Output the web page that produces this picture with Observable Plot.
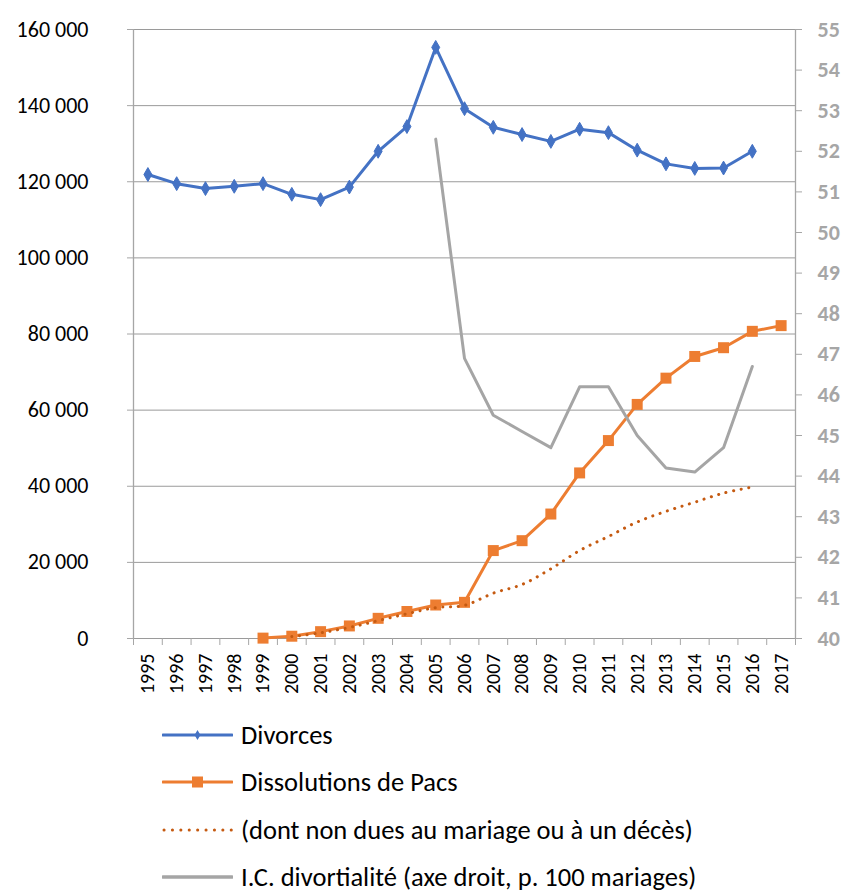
<!DOCTYPE html>
<html>
<head>
<meta charset="utf-8">
<script src="https://cdn.jsdelivr.net/npm/d3@7"></script>
<script src="https://cdn.jsdelivr.net/npm/@observablehq/plot@0.6"></script>
<style>
  body { margin: 0; background: #fff; font-family: Carlito, Calibri, Lato, sans-serif; }
  #chart svg { display: block; }
  .legend { margin-top: 1px; }
  .row { display: flex; align-items: center; height: 47.5px; padding-left: 162px; font-size: 26.5px; line-height: 1; color: #000; }
  .row svg { margin-right: 8px; flex: none; }
</style>
</head>
<body>
<div id="chart"></div>
<div class="legend" id="legend"></div>
<script>
// ---- data ----
const years = d3.range(1995, 2018);
const divorceYears = d3.range(1995, 2017);
const divorces = [121900, 119500, 118200, 118800, 119500, 116700, 115300, 118600, 128000, 134500, 155300, 139200, 134300, 132400, 130600, 133800, 132900, 128300, 124700, 123500, 123600, 128000];
const pacsYears = d3.range(1999, 2018);
const pacs = [100, 600, 1800, 3300, 5300, 7100, 8800, 9500, 23100, 25700, 32700, 43500, 52000, 61500, 68400, 74100, 76400, 80700, 82200];
const pacsNetYears = d3.range(2000, 2017);
const pacsNet = [500, 1500, 2900, 4700, 6500, 8100, 8700, 11900, 14200, 18300, 23100, 26800, 30600, 33400, 35800, 38200, 39800];
const icdYears = d3.range(2005, 2017);
const icd = [52.3, 46.9, 45.5, 45.1, 44.7, 46.2, 46.2, 45.0, 44.2, 44.1, 44.7, 46.7];
const leftTicks = d3.range(0, 160001, 20000);
const rightTicks = d3.range(40, 56);
const legendLabels = ["Divorces", "Dissolutions de Pacs", "(dont non dues au mariage ou à un décès)", "I.C. divortialité (axe droit, p. 100 mariages)"];

// right axis (40..55) mapped onto left scale (0..160000)
const toLeft = v => (v - 40) * 160000 / 15;
const fromLeft = y => Math.round(40 + y * 15 / 160000);

const divData = divorceYears.map((y, i) => ({year: y, value: divorces[i]}));
const pacsData = pacsYears.map((y, i) => ({year: y, value: pacs[i]}));
const netData = pacsNetYears.map((y, i) => ({year: y, value: pacsNet[i]}));
const icdData = icdYears.map((y, i) => ({year: y, value: icd[i]}));

const fmt = d => d3.format(",")(d).replace(/,/g, " ");
const boundaries = d3.range(1994.5, 2018, 1);

const BLUE = "#4472c4", ORANGE = "#ed7d31", DORANGE = "#c55a11", GREY = "#a5a5a5", AXIS = "#a6a6a6", GRID = "#9a9a9a";

const plot = Plot.plot({
  width: 843,
  height: 710,
  marginLeft: 133,
  marginRight: 48,
  marginTop: 29,
  marginBottom: 72,
  style: {fontFamily: "Carlito, Calibri, Lato, sans-serif", background: "#fff"},
  x: {type: "linear", domain: [1994.5, 2017.5]},
  y: {domain: [0, 160000]},
  marks: [
    Plot.gridY(leftTicks, {stroke: GRID, strokeOpacity: 1, strokeWidth: 1}),
    Plot.ruleX([1994.5], {stroke: AXIS, strokeWidth: 1.3}),
    Plot.ruleX([2017.5], {stroke: AXIS, strokeWidth: 1.3}),
    Plot.axisY(leftTicks, {anchor: "left", tickFormat: fmt, tickSize: 6, tickPadding: 39, stroke: AXIS, fill: "#000", fontSize: 22, label: null}),
    Plot.axisY(rightTicks.map(toLeft), {anchor: "right", tickFormat: fromLeft, tickSize: 6, tickPadding: 16, stroke: AXIS, fill: AXIS, fontSize: 22, fontWeight: "bold", label: null}),
    Plot.axisX(boundaries, {tickFormat: () => "", tickSize: 7, stroke: AXIS, label: null}),
    Plot.axisX(years, {tickFormat: d => String(d), tickSize: 0, tickPadding: 15, tickRotate: -90, fontSize: 20, fill: "#000", label: null}),
    Plot.line(divData, {x: "year", y: "value", stroke: BLUE, strokeWidth: 3}),
    Plot.dot(divData, {x: "year", y: "value", symbol: "diamond", r: 4.2, fill: BLUE, stroke: BLUE, strokeWidth: 1}),
    Plot.line(pacsData, {x: "year", y: "value", stroke: ORANGE, strokeWidth: 3}),
    Plot.dot(pacsData, {x: "year", y: "value", symbol: "square", r: 6.2, fill: ORANGE, stroke: "none"}),
    Plot.line(netData, {x: "year", y: "value", stroke: DORANGE, strokeWidth: 3, strokeDasharray: "0.1 7.6", strokeLinecap: "round", curve: "catmull-rom"}),
    Plot.line(icdData, {x: "year", y: d => toLeft(d.value), stroke: GREY, strokeWidth: 3})
  ]
});
document.getElementById("chart").appendChild(plot);

// legend
const swatches = [
  s => { s.append("line").attr("x1", 1).attr("x2", 70).attr("y1", 12).attr("y2", 12).attr("stroke", BLUE).attr("stroke-width", 3).attr("stroke-linecap", "round");
         s.append("path").attr("d", d3.symbol(d3.symbolDiamond, 30)()).attr("transform", "translate(35.5,12)").attr("fill", BLUE); },
  s => { s.append("line").attr("x1", 1).attr("x2", 70).attr("y1", 12).attr("y2", 12).attr("stroke", ORANGE).attr("stroke-width", 3).attr("stroke-linecap", "round");
         s.append("rect").attr("x", 30).attr("y", 6.5).attr("width", 11).attr("height", 11).attr("fill", ORANGE); },
  s => { s.append("line").attr("x1", 2).attr("x2", 70).attr("y1", 12).attr("y2", 12).attr("stroke", DORANGE).attr("stroke-width", 3).attr("stroke-dasharray", "0.1 8.3").attr("stroke-linecap", "round"); },
  s => { s.append("line").attr("x1", 1).attr("x2", 70).attr("y1", 12).attr("y2", 12).attr("stroke", GREY).attr("stroke-width", 3.5).attr("stroke-linecap", "round"); }
];
const legend = d3.select("#legend");
legendLabels.forEach((lab, i) => {
  const row = legend.append("div").attr("class", "row");
  const s = row.append("svg").attr("width", 71).attr("height", 24);
  swatches[i](s);
  row.append("span").text(lab);
});
</script>
</body>
</html>
